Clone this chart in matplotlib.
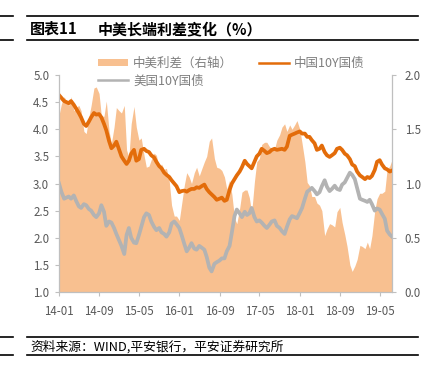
import numpy as np
import pandas as pd
import matplotlib
matplotlib.use("Agg")
import matplotlib.pyplot as plt
import matplotlib.dates as mdates
from matplotlib.lines import Line2D
from matplotlib.patches import Patch

plt.rcParams['font.family'] = ['Noto Sans CJK SC', 'DejaVu Sans']

# semi-monthly readings, 2014-01 .. 2019-07
dates = pd.date_range('2014-01-01', '2019-07-15', freq='SMS')

cn10y = [
    4.63, 4.58, 4.52, 4.50, 4.48, 4.52, 4.45, 4.38, 4.30, 4.22, 4.10, 4.06,
    4.14, 4.22, 4.30, 4.27, 4.28, 4.22, 4.10, 3.98, 3.78, 3.65, 3.70, 3.77,
    3.62, 3.50, 3.42, 3.36, 3.42, 3.55, 3.62, 3.42, 3.45, 3.62, 3.64, 3.60,
    3.58, 3.52, 3.48, 3.40, 3.32, 3.28, 3.20, 3.16, 3.12, 3.06, 3.00, 2.95,
    2.84, 2.86, 2.87, 2.85, 2.88, 2.90, 2.90, 2.93, 2.92, 2.95, 2.98, 2.90,
    2.84, 2.80, 2.75, 2.70, 2.72, 2.74, 2.68, 2.70, 2.88, 3.00, 3.08, 3.15,
    3.22, 3.30, 3.42, 3.36, 3.32, 3.28, 3.40, 3.50, 3.55, 3.64, 3.60, 3.56,
    3.58, 3.62, 3.64, 3.62, 3.63, 3.64, 3.62, 3.68, 3.88, 3.90, 3.92, 3.94,
    3.96, 3.92, 3.92, 3.86, 3.86, 3.80, 3.74, 3.62, 3.64, 3.70, 3.58, 3.52,
    3.49, 3.52, 3.56, 3.64, 3.66, 3.62, 3.55, 3.52, 3.45, 3.35, 3.32, 3.22,
    3.15, 3.12, 3.08, 3.12, 3.10, 3.14, 3.25, 3.40, 3.43, 3.35, 3.28, 3.26,
    3.22, 3.24,
]

us10y = [
    3.00, 2.85, 2.72, 2.74, 2.76, 2.72, 2.78, 2.68, 2.58, 2.55, 2.62, 2.60,
    2.53, 2.50, 2.42, 2.38, 2.45, 2.60, 2.48, 2.22, 2.30, 2.28, 2.18, 2.07,
    1.95, 1.85, 1.70, 2.05, 2.18, 2.00, 1.91, 1.90, 2.05, 2.20, 2.38, 2.45,
    2.42, 2.30, 2.20, 2.14, 2.18, 2.10, 2.07, 2.02, 2.10, 2.26, 2.30, 2.25,
    2.18, 2.05, 1.88, 1.75, 1.82, 1.90, 1.80, 1.78, 1.85, 1.82, 1.78, 1.65,
    1.45, 1.38, 1.52, 1.55, 1.58, 1.62, 1.62, 1.75, 1.85, 2.10, 2.40, 2.52,
    2.45, 2.38, 2.48, 2.42, 2.45, 2.55, 2.38, 2.30, 2.32, 2.28, 2.22, 2.18,
    2.24, 2.30, 2.32, 2.22, 2.18, 2.12, 2.07, 2.20, 2.34, 2.40, 2.38, 2.36,
    2.46, 2.55, 2.72, 2.85, 2.88, 2.92, 2.86, 2.80, 2.84, 2.95, 3.06, 2.94,
    2.86, 2.90, 2.96, 2.90, 2.88, 2.98, 3.02, 3.10, 3.20, 3.16, 3.08, 2.92,
    2.72, 2.70, 2.68, 2.66, 2.70, 2.62, 2.50, 2.54, 2.52, 2.44, 2.35, 2.13,
    2.06, 2.02,
]

# 中美利差 = 中国10Y - 美国10Y
spread = np.array(cn10y) - np.array(us10y)

tick_dates = pd.to_datetime(['2014-01-01', '2014-09-01', '2015-05-01', '2016-01-01',
                             '2016-09-01', '2017-05-01', '2018-01-01', '2018-09-01',
                             '2019-05-01'])

c_fill = '#F8C090'
c_cn = '#E36C0A'
c_us = '#B3B3B3'
c_ax = '#BFBFBF'
c_txt = '#595959'

fig = plt.figure(figsize=(4.42, 3.75), dpi=100)
ax1 = fig.add_axes([0.1335, 0.2213, 0.7535, 0.5787])
ax2 = ax1.twinx()

ax2.fill_between(dates, 0, spread, color=c_fill, lw=0)
ax2.set_ylim(0, 2)
ax1.set_zorder(ax2.get_zorder() + 1)
ax1.patch.set_visible(False)

ax1.plot(dates, cn10y, color=c_cn, lw=2.7)
ax1.plot(dates, us10y, color=c_us, lw=2.7)
ax1.set_ylim(1, 5)
ax1.set_xlim(dates[0], dates[-1])

ax1.set_yticks(np.arange(1, 5.01, 0.5))
ax1.set_yticklabels([f'{v:.1f}' for v in np.arange(1, 5.01, 0.5)])
ax2.set_yticks(np.arange(0, 2.01, 0.5))
ax2.set_yticklabels([f'{v:.1f}' for v in np.arange(0, 2.01, 0.5)])
ax1.set_xticks(tick_dates)
ax1.xaxis.set_major_formatter(mdates.DateFormatter('%y-%m'))

for ax in (ax1, ax2):
    for s in ax.spines.values():
        s.set_visible(False)
    ax.tick_params(colors=c_ax, labelcolor=c_txt, labelsize=8.3, length=3, width=0.8)
ax1.spines['left'].set_visible(True)
ax1.spines['bottom'].set_visible(True)
ax2.spines['right'].set_visible(True)
for s in (ax1.spines['left'], ax1.spines['bottom'], ax2.spines['right']):
    s.set_color(c_ax)
    s.set_linewidth(0.9)
ax1.tick_params(axis='y', pad=4)
ax1.tick_params(axis='x', pad=6)
ax2.tick_params(axis='y', pad=6)

handles = [Patch(color=c_fill, lw=0),
           Line2D([], [], color=c_us, lw=1.8),
           Line2D([], [], color=c_cn, lw=1.8)]
labels = ['中美利差（右轴）', '美国10Y国债', '中国10Y国债']
fig.legend(handles, labels, loc='upper left', bbox_to_anchor=(98 / 442, 1 - 57 / 375),
           ncol=2, frameon=False, fontsize=9, labelcolor='#7F7F7F',
           handlelength=2.4, handleheight=0.45, handletextpad=0.4,
           columnspacing=2.1, labelspacing=0.35, borderaxespad=0, borderpad=0)

# header and footer rules
def hline(y, x0, x1, lw=1.2):
    fig.add_artist(Line2D([x0 / 442, x1 / 442], [1 - y / 375, 1 - y / 375],
                          color='black', lw=lw))

hline(16, 0, 13)
hline(40, 0, 13)
hline(16, 27, 418)
hline(40, 27, 418)
hline(337, 0, 13)
hline(355, 0, 13)
hline(337, 27, 418)
hline(355, 27, 418)

fig.text(30 / 442, 1 - 29 / 375, '图表11', fontsize=10.8,
         fontweight='bold', va='center', ha='left', color='black')
fig.text(98 / 442, 1 - 29 / 375, '中美长端利差变化（%）', fontsize=10.8,
         fontweight='bold', va='center', ha='left', color='black')
fig.text(30 / 442, 1 - 347 / 375, '资料来源：WIND,平安银行，平安证券研究所', fontsize=9.2,
         va='center', ha='left', color='black', style='italic')

fig.savefig('out.png', dpi=100)
